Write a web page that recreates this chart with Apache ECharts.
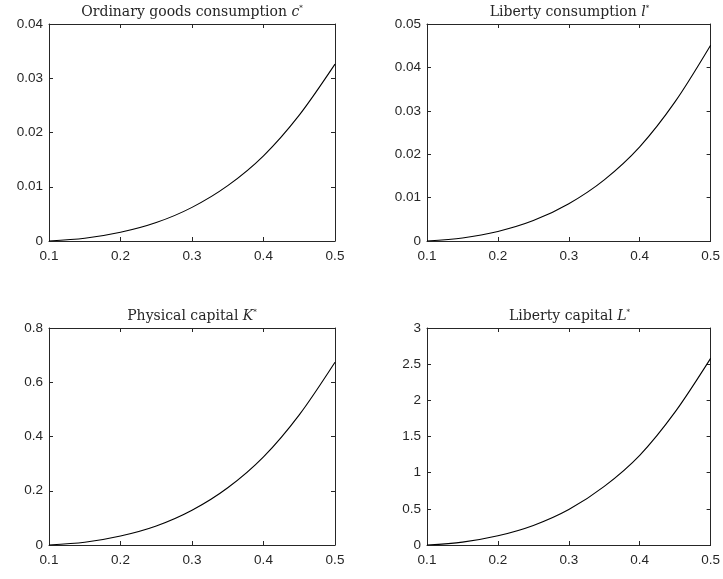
<!DOCTYPE html>
<html>
<head>
<meta charset="utf-8">
<script src="https://cdn.jsdelivr.net/npm/echarts@6/dist/echarts.min.js"></script>
<style>
html,body{margin:0;padding:0;background:#fff;}
#chart{width:723px;height:579px;}
</style>
</head>
<body>
<div id="chart"></div>
<script>
// x grid (shared by all panels)
const xValues = [0.1, 0.15, 0.2, 0.25, 0.3, 0.35, 0.4, 0.45, 0.5];
// Ordinary goods consumption c*
const cValues = [0, 0.0005, 0.0016, 0.0034, 0.0062, 0.0102, 0.0157, 0.0232, 0.0326];
// Liberty consumption l*
const lValues = [0, 0.0007, 0.0022, 0.0047, 0.0086, 0.0141, 0.0217, 0.0321, 0.0451];
// Physical capital K*
const kValues = [0, 0.010, 0.033, 0.070, 0.128, 0.211, 0.325, 0.480, 0.674];
// Liberty capital L*
const LValues = [0, 0.04, 0.127, 0.27, 0.49, 0.81, 1.24, 1.84, 2.58];

const xTicks = {min: 0.1, max: 0.5, interval: 0.1};
const yTicks = [
  {min: 0, max: 0.04, interval: 0.01},
  {min: 0, max: 0.05, interval: 0.01},
  {min: 0, max: 0.8, interval: 0.2},
  {min: 0, max: 3, interval: 0.5}
];
const titles = [
  ['Ordinary goods consumption ', 'c'],
  ['Liberty consumption ', 'l'],
  ['Physical capital ', 'K'],
  ['Liberty capital ', 'L']
];
const seriesData = [cValues, lValues, kValues, LValues];

const grids = [
  {left: 49, right: 388, top: 24, bottom: 338},
  {left: 427, right: 11, top: 24, bottom: 338},
  {left: 49, right: 388, top: 328, bottom: 34},
  {left: 427, right: 11, top: 328, bottom: 34}
];

const axisColor = '#262626';
const labelFont = {fontFamily: 'Liberation Sans, Arial, sans-serif', fontSize: 13.5, color: '#262626'};
const lineStyle = {color: axisColor, width: 1};
const serif = 'DejaVu Serif, Liberation Serif, serif';

const xAxis = [], yAxis = [], series = [], title = [];
grids.forEach((g, i) => {
  xAxis.push({
    type: 'value', gridIndex: i, position: 'bottom',
    min: xTicks.min, max: xTicks.max, interval: xTicks.interval,
    axisLine: {show: true, onZero: false, lineStyle},
    axisTick: {show: true, inside: true, length: 4, lineStyle},
    axisLabel: Object.assign({margin: 8, formatter: v => String(+v.toFixed(2))}, labelFont),
    splitLine: {show: false}
  });
  xAxis.push({
    type: 'value', gridIndex: i, position: 'top',
    min: xTicks.min, max: xTicks.max, interval: xTicks.interval,
    axisLine: {show: true, onZero: false, lineStyle},
    axisTick: {show: true, inside: true, length: 4, lineStyle},
    axisLabel: {show: false}, splitLine: {show: false}
  });
  const yt = yTicks[i];
  yAxis.push({
    type: 'value', gridIndex: i, position: 'left',
    min: yt.min, max: yt.max, interval: yt.interval,
    axisLine: {show: true, onZero: false, lineStyle},
    axisTick: {show: true, inside: true, length: 4, lineStyle},
    axisLabel: Object.assign({margin: 6, formatter: v => String(+v.toFixed(3))}, labelFont),
    splitLine: {show: false}
  });
  yAxis.push({
    type: 'value', gridIndex: i, position: 'right',
    min: yt.min, max: yt.max, interval: yt.interval,
    axisLine: {show: true, onZero: false, lineStyle},
    axisTick: {show: true, inside: true, length: 4, lineStyle},
    axisLabel: {show: false}, splitLine: {show: false}
  });
  series.push({
    type: 'line', xAxisIndex: 2 * i, yAxisIndex: 2 * i,
    data: xValues.map((x, j) => [x, seriesData[i][j]]),
    smooth: 0.3, showSymbol: false, symbol: 'none',
    lineStyle: {color: '#000', width: 1.1},
    animation: false
  });
  const gw = 723 - g.left - g.right;
  title.push({
    text: '{a|' + titles[i][0] + '}{i|' + titles[i][1] + '}{s|*}',
    left: g.left + gw / 2, top: g.top - 19, textAlign: 'center', padding: 0,
    textStyle: {
      fontWeight: 'normal',
      rich: {
        a: {fontFamily: serif, fontSize: 14, fontWeight: 'normal', color: '#262626'},
        i: {fontFamily: serif, fontSize: 14, fontStyle: 'italic', fontWeight: 'normal', color: '#262626'},
        s: {fontFamily: serif, fontSize: 7, fontWeight: 'normal', color: '#262626', padding: [0, 0, 8, 0]}
      }
    }
  });
});

const chart = echarts.init(document.getElementById('chart'), null, {renderer: 'canvas'});
chart.setOption({
  animation: false,
  backgroundColor: '#fff',
  title, grid: grids, xAxis, yAxis, series
});
</script>
</body>
</html>
